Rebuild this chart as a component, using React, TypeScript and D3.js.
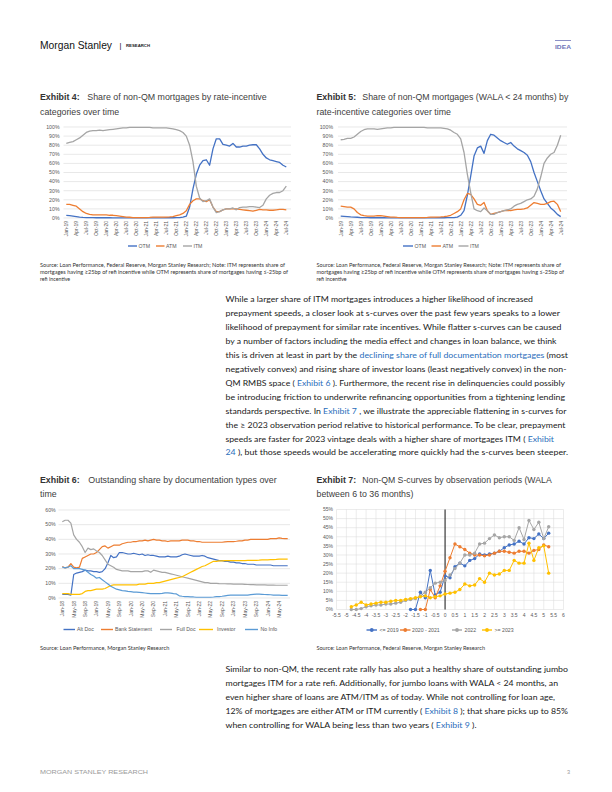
import * as d3 from "d3";

// ---------- data ----------
const months19 = d3.utcMonth
  .range(new Date(Date.UTC(2019, 0, 1)), new Date(Date.UTC(2024, 7, 1)))
  .map(d3.utcFormat("%b-%y"));
const months18 = d3.utcMonth
  .range(new Date(Date.UTC(2018, 0, 1)), new Date(Date.UTC(2024, 8, 1)))
  .map(d3.utcFormat("%b-%y"));

const ticks19 = ["Jan-19", "Apr-19", "Jul-19", "Oct-19", "Jan-20", "Apr-20", "Jul-20", "Oct-20", "Jan-21", "Apr-21", "Jul-21", "Oct-21", "Jan-22", "Apr-22", "Jul-22", "Oct-22", "Jan-23", "Apr-23", "Jul-23", "Oct-23", "Jan-24", "Apr-24", "Jul-24"];
const ticks18 = ["Jan-18", "May-18", "Sep-18", "Jan-19", "May-19", "Sep-19", "Jan-20", "May-20", "Sep-20", "Jan-21", "May-21", "Sep-21", "Jan-22", "May-22", "Sep-22", "Jan-23", "May-23", "Sep-23", "Jan-24", "May-24"];
const pctTicks100 = [0, 10, 20, 30, 40, 50, 60, 70, 80, 90, 100];
const pctTicks60 = [0, 10, 20, 30, 40, 50, 60];
const pctTicks55 = [0, 5, 10, 15, 20, 25, 30, 35, 40, 45, 50, 55];
const incentiveTicks = [-5.5, -5, -4.5, -4, -3.5, -3, -2.5, -2, -1.5, -1, -0.5, 0, 0.5, 1, 1.5, 2, 2.5, 3, 3.5, 4, 4.5, 5, 5.5, 6];

// Exhibit 4: all loans
const otm4 = [3, 2.5, 2, 1.5, 1, 0.7, 0.5, 0.4, 0.4, 0.3, 0.3, 0.3, 0.3, 0.3, 0.2, 0.2, 0.2, 0.2, 0.2, 0.2, 0.2, 0.2, 0.2, 0.2, 0.2, 0.2, 0.2, 0.2, 0.2, 0.2, 0.3, 0.3, 0.3, 0.4, 0.5, 1, 2, 12, 32, 48, 58, 63, 64, 58, 76, 87, 87, 81, 80, 79, 82, 78, 78, 79, 79, 80, 80.5, 80.5, 76, 70, 66, 64, 63, 62, 61, 58, 56];
const atm4 = [15, 15, 14, 13, 10, 7, 5, 4, 3.5, 3.5, 3.5, 3.5, 3.5, 3, 3, 2.5, 2, 1.5, 1, 0.8, 0.5, 0.5, 0.5, 0.5, 0.5, 0.7, 1, 1, 1, 1, 1, 1.2, 1.5, 2.5, 3.5, 5, 8, 15, 19, 21, 21, 19, 18, 20, 12, 7, 7, 9, 10, 10, 10, 10, 9.5, 9, 8.5, 8, 7.5, 8.5, 9.5, 9, 9, 8.5, 8.5, 9, 9.5, 9.5, 9];
const itm4 = [82, 83, 84, 86, 88, 91, 94, 95.5, 96, 96, 96.5, 96, 96.5, 97, 97.5, 98, 98.5, 99, 99, 99.5, 99.5, 99.5, 99.5, 99.5, 99.5, 99.5, 99, 99, 99, 99, 99, 98.5, 98, 97, 96, 94, 90, 80, 62, 35, 22, 18, 19, 21, 12, 6, 7, 9, 10, 10, 11, 9, 11.5, 12, 12, 12.5, 12.5, 12, 11.5, 14, 21, 25, 27, 28, 28, 30, 35];

// Exhibit 5: WALA < 24 months
const otm5 = [2, 1.8, 1.5, 1.2, 1, 0.8, 0.5, 0.4, 0.4, 0.3, 0.3, 0.3, 0.3, 0.3, 0.2, 0.2, 0.2, 0.2, 0.2, 0.2, 0.2, 0.2, 0.2, 0.2, 0.2, 0.2, 0.2, 0.2, 0.2, 0.3, 0.3, 0.3, 0.4, 0.4, 0.5, 1, 3, 8, 25, 46, 68, 77, 79, 71, 85, 92, 91, 88, 85, 83, 81, 83, 79, 76, 74, 72, 69, 62, 50, 40, 30, 21, 16, 11, 8, 4, 1.5];
const atm5 = [13, 12.5, 12, 12, 10, 6, 3.5, 2.5, 2, 2, 2, 2.5, 2.5, 2, 1.5, 1, 1, 0.7, 0.5, 0.5, 0.5, 0.5, 0.5, 0.5, 0.5, 0.5, 0.7, 1, 1, 1, 1.2, 1.5, 2, 3, 5, 7, 10, 20, 27, 26, 21, 15, 14, 17, 8, 4, 5, 6, 7, 8, 8.5, 8, 9, 9.5, 9.5, 10, 11, 14, 17, 16, 15, 15, 16, 18, 18.5, 15, 7];
const itm5 = [86, 86.5, 87.5, 87.5, 89, 92, 95, 97, 98, 98, 98, 97.5, 98, 98.5, 99, 99, 99.5, 99.5, 99.5, 99.5, 99.5, 99.5, 99.5, 99.5, 99.5, 99.5, 99, 99, 99, 99, 99, 98.5, 98, 96.5, 94, 92, 87, 72, 48, 28, 10, 8, 7, 11, 8, 4, 4, 6, 7, 8, 9, 10, 13, 15, 16, 18, 20, 21, 24, 32, 45, 60, 66, 70, 72, 80, 91];

// Exhibit 6: documentation types
const altDoc = [2.5, 2.5, 2.5, 2, 16, 17, 17.5, 18, 19, 18.5, 18.5, 18, 18, 17.5, 18, 20, 24, 29, 27.5, 28, 31, 31, 30.5, 30, 30, 30.5, 30, 29.5, 30, 29, 29.5, 29, 29, 28.5, 28, 28, 28, 28.5, 28, 28, 28, 28.5, 29.5, 30, 29.5, 29, 28.5, 28.5, 28.5, 29, 28.5, 27.5, 27, 26.5, 26, 25.5, 25.5, 25, 25, 24.5, 24.5, 24, 24, 23.5, 23.5, 23, 23, 23, 22.5, 22.5, 22.5, 22.5, 22.5, 22.5, 22, 22, 22, 22, 22, 22];
const bankStatement = [21.5, 20.5, 21, 23.5, 21, 20.5, 21, 27, 28, 29, 30, 30, 31, 33, 35, 35.5, 34, 35, 36, 36, 36, 37, 37.5, 38, 38, 38.5, 38.5, 39, 39, 39.5, 39, 39.5, 40, 39.5, 39.5, 39, 39, 38.5, 39, 39, 39, 39, 39.5, 39.5, 39.5, 39, 39, 38.5, 38.5, 38, 38, 38, 38, 38, 38, 38, 38, 38.3, 38.5, 38.5, 38.5, 38.7, 39, 39, 39.5, 39.5, 40, 40, 40, 40, 40, 40, 40, 40.5, 40.5, 40.5, 41, 40.7, 40.5, 40.5];
const fullDoc = [52, 53, 53, 51, 43, 40, 38, 35, 31, 34, 33, 33.5, 32, 31, 29, 26, 23, 22, 21, 19.5, 19, 18.5, 18.5, 18.5, 18, 18, 18, 18, 18, 18.5, 18.5, 17.5, 19, 18.5, 18, 17.5, 17.5, 17, 16.5, 16, 15.5, 15, 14.5, 14, 13.5, 13, 12.5, 12, 11.5, 11, 10.5, 10.5, 10, 10, 10, 9.8, 9.7, 9.7, 9.6, 9.6, 9.5, 9.5, 9.4, 9.4, 9.3, 9.2, 9.1, 9.1, 9, 9, 9, 8.9, 8.8, 8.8, 8.8, 8.7, 8.7, 8.7, 8.7, 8.7];
const investor = [3, 3, 3, 2.5, 2.5, 2.5, 2.5, 3, 4.5, 5, 5, 5.5, 6, 6, 6, 6.5, 7.5, 8.5, 9, 9, 9, 9, 9, 9, 9, 9, 9, 9.5, 9.5, 9.5, 10, 10, 10, 10.5, 10.5, 11, 11.5, 12, 12.5, 13, 13.5, 14, 14.5, 15.5, 16.5, 17.5, 18.5, 19.5, 20.5, 21.5, 22, 23, 24, 25, 25, 25.3, 25.3, 25.5, 25.5, 25.5, 25.5, 25.5, 25.5, 25.5, 25.5, 25.6, 25.7, 25.7, 25.7, 25.8, 26, 26, 26, 26.2, 26.2, 26.3, 26.5, 26.5, 26.5, 26.5];
const noInfo = [21, 20.5, 21, 22, 20, 20, 20, 19.5, 19, 17.5, 16, 15, 13.5, 14, 12.5, 11, 9.5, 8, 7, 6, 5.5, 5, 4.8, 4.5, 4.3, 4, 4, 3.8, 3.6, 3.4, 3.2, 3, 3, 3, 3, 3.2, 3.5, 3.5, 3.3, 3, 2.8, 1.5, 1.2, 1, 1, 0.8, 0.7, 0.5, 0.5, 0.5, 0.5, 0.5, 0.5, 0.7, 1, 1, 1.2, 1.5, 1.8, 2, 2, 2, 2, 2, 2, 2, 2.3, 2.5, 2.6, 2.6, 2.5, 2.4, 2.3, 2.2, 2, 2, 2, 1.8, 1.8, 1.8];

// Exhibit 7: s-curves (refi incentive, %)
const incentives = [-4.75, -4.5, -4.25, -4, -3.75, -3.5, -3.25, -3, -2.75, -2.5, -2.25, -2, -1.75, -1.5, -1.25, -1, -0.75, -0.5, -0.25, 0, 0.25, 0.5, 0.75, 1, 1.25, 1.5, 1.75, 2, 2.25, 2.5, 2.75, 3, 3.25, 3.5, 3.75, 4, 4.25, 4.5, 4.75, 5, 5.25];
const sc2019 = [null, null, null, null, null, null, null, null, null, null, null, null, 0, 0, 9.5, 6.5, 21.5, 8, 9.5, 18.5, 17.5, 23.5, 25.5, 24, 27, 28, 30.5, 30, 30.5, 31, 32, 34, 35.5, 36, 37.5, 36, 39.5, 39, 41.5, 39, 42];
const sc2020 = [null, null, null, null, null, null, null, null, null, null, null, null, null, null, 0, 0, 11, 6.5, 13, 21, 28.5, 36, 34.5, 33, 31, 30, 30, 29.5, 30, 31, 32, 32, 31.5, 31, 32, 32, 31, 32.5, 33, 35.5, 34.5];
const sc2022 = [0, 0, 0.5, 1.5, 2, 2.5, 2.5, 3, 3, 3.5, 4, 5, 5.5, 6, 7.5, 9.5, 12, 14.5, 15, 16, 19, 22.5, 25.5, 30, 30, 31, 36, 36.5, 39, 41, 39.5, 40, 40, 38, 45, 38.5, 49, 44, 48, 39, 45.5];
const sc2023 = [1.5, 2.5, 4, 2.5, 3, 3.5, 4, 4, 4.5, 5, 5, 5.5, 6, 6.5, 7, 7.5, 6.5, 7, 7.5, 8.5, 9, 9.5, 11, 14, 13, 13.5, 17, 15, 20, 19, 19.5, 21.5, 21.5, 27, 25.5, 25.5, 36.5, 27, 34, 35, 20];

// ---------- text ----------
const para1: [string, boolean][][] = [
  [["While a larger share of ITM mortgages introduces a higher likelihood of increased", false]],
  [["prepayment speeds, a closer look at s-curves over the past few years speaks to a lower", false]],
  [["likelihood of prepayment for similar rate incentives. While flatter s-curves can be caused", false]],
  [["by a number of factors including the media effect and changes in loan balance, we think", false]],
  [["this is driven at least in part by the ", false], ["declining share of full documentation mortgages", true], [" (most", false]],
  [["negatively convex) and rising share of investor loans (least negatively convex) in the non-", false]],
  [["QM RMBS space ( ", false], ["Exhibit 6", true], [" ). Furthermore, the recent rise in delinquencies could possibly", false]],
  [["be introducing friction to underwrite refinancing opportunities from a tightening lending", false]],
  [["standards perspective. In  ", false], ["Exhibit 7", true], [" , we illustrate the appreciable flattening in s-curves for", false]],
  [["the \u2265 2023 observation period relative to historical performance. To be clear, prepayment", false]],
  [["speeds are faster for 2023 vintage deals with a higher share of mortgages ITM ( ", false], ["Exhibit", true]],
  [["24", true], [" ), but those speeds would be accelerating more quickly had the s-curves been steeper.", false]],
];
const para1Ends = [533, 560, 561.5, 556.5, 568, 566.5, 565, 565, 566.5, 565.5, 554, 568];

const para2: [string, boolean][][] = [
  [["Similar to non-QM, the recent rate rally has also put a healthy share of outstanding jumbo", false]],
  [["mortgages ITM for a rate refi. Additionally, for jumbo loans with WALA < 24 months, an", false]],
  [["even higher share of loans are ATM/ITM as of today. While not controlling for loan age,", false]],
  [["12% of mortgages are either ATM or ITM currently ( ", false], ["Exhibit 8", true], [" ); that share picks up to 85%", false]],
  [["when controlling for WALA being less than two years ( ", false], ["Exhibit 9", true], [" ).", false]],
];
const para2Ends = [568, 558, 555, 568, 476.5];

const noteLines = [
  "Source: Loan Performance, Federal Reserve, Morgan Stanley Research; Note: ITM represents share of",
  "mortgages having \u226525bp of refi incentive while OTM represents share of mortgages having \u2264-25bp of",
  "refi incentive",
];

const SANS = "'Liberation Sans', Arial, sans-serif";
const BODY = "Lato, 'Open Sans', sans-serif";
const AXIS = "#595959";
const GRID = "#d9d9d9";
const LINK = "#2a6ebb";
const C_BLUE = "#4472C4";
const C_ORANGE = "#ED7D31";
const C_GRAY = "#A5A5A5";
const C_YELLOW = "#FFC000";
const C_LBLUE = "#5B9BD5";

// ---------- pieces ----------
function Title({ x, sx, y, label, line1, line1End, line2 }: any) {
  return (
    <g fontFamily={SANS} fill="#333">
      <text x={x} y={y} fontSize={8.8} fontWeight="bold">{label}</text>
      <text x={sx} y={y} fontSize={8.8} fill="#404040" textLength={line1End - sx} lengthAdjust="spacingAndGlyphs">{line1}</text>
      <text x={x} y={y + 14.5} fontSize={8.8} fill="#404040">{line2}</text>
    </g>
  );
}

function MonthChart({ months, ticks, series, xFirst, xLast, yTop, yBottom, yMax, yTicks, gridL, gridR, labelRight, sw }: any) {
  const x = d3.scalePoint<string>().domain(months).range([xFirst, xLast]);
  const y = d3.scaleLinear().domain([0, yMax]).range([yBottom, yTop]);
  const line = d3.line<number>().x((_, i) => x(months[i])!).y((d) => y(d)).curve(d3.curveLinear);
  return (
    <g fontFamily={SANS}>
      {yTicks.map((t: number) => (
        <g key={t}>
          <line x1={gridL} x2={gridR} y1={y(t)} y2={y(t)} stroke={GRID} strokeWidth={0.6} />
          <text x={labelRight} y={y(t)} dy="0.35em" textAnchor="end" fontSize={5.2} fill={AXIS}>{t}%</text>
        </g>
      ))}
      {ticks.map((t: string) => (
        <text key={t} transform={`translate(${x(t)},${yBottom + 3}) rotate(-90)`} textAnchor="end" dy="0.36em" fontSize={5} fill={AXIS}>{t}</text>
      ))}
      {series.map((s: any) => (
        <path key={s.name} d={line(s.values) || ""} fill="none" stroke={s.color} strokeWidth={sw} strokeLinejoin="round" />
      ))}
    </g>
  );
}

function Legend({ items, y, marker }: any) {
  return (
    <g fontFamily={SANS} fontSize={5.2} fill={AXIS}>
      {items.map((it: any) => (
        <g key={it.name}>
          <line x1={it.x1} x2={it.x2} y1={y} y2={y} stroke={it.color} strokeWidth={1.4} />
          {marker && <circle cx={(it.x1 + it.x2) / 2} cy={y} r={1.9} fill={it.color} />}
          <text x={it.tx} y={y} dy="0.35em">{it.name}</text>
        </g>
      ))}
    </g>
  );
}

function Para({ lines, ends, x, y0, step }: any) {
  return (
    <g fontFamily={BODY} fontSize={8.3} fill="#1a1a1a" style={{ whiteSpace: "pre" }}>
      {lines.map((segs: [string, boolean][], i: number) => (
        <text key={i} x={x} y={y0 + i * step} textLength={ends[i] - x} lengthAdjust="spacingAndGlyphs">
          {segs.map(([t, link], j) => (
            <tspan key={j} fill={link ? LINK : "#1a1a1a"}>{t}</tspan>
          ))}
        </text>
      ))}
    </g>
  );
}

function Note({ x, y, lines, ends }: any) {
  return (
    <g fontFamily={BODY} fontSize={5.3} fill="#333">
      {lines.map((t: string, i: number) => (
        <text key={i} x={x} y={y + i * 7} textLength={ends[i] ? ends[i] - x : undefined} lengthAdjust={ends[i] ? "spacingAndGlyphs" : undefined}>{t}</text>
      ))}
    </g>
  );
}

function SCurveChart() {
  const x = d3.scaleLinear().domain([-5.5, 6]).range([336.5, 563.5]);
  const y = d3.scaleLinear().domain([0, 55]).range([609.5, 509.5]);
  const line = d3.line<number | null>()
    .defined((d) => d !== null)
    .x((_, i) => x(incentives[i]))
    .y((d) => y(d as number));
  const series = [
    { name: "<= 2019", color: C_BLUE, values: sc2019 },
    { name: "2020 - 2021", color: C_ORANGE, values: sc2020 },
    { name: "2022", color: C_GRAY, values: sc2022 },
    { name: ">= 2023", color: C_YELLOW, values: sc2023 },
  ];
  return (
    <g fontFamily={SANS}>
      {incentiveTicks.map((t) => (
        <g key={t}>
          <line x1={x(t)} x2={x(t)} y1={y(0)} y2={y(55)} stroke={GRID} strokeWidth={0.5} />
          <text x={x(t)} y={y(0) + 7} textAnchor="middle" fontSize={5} fill={AXIS}>{t}</text>
        </g>
      ))}
      {pctTicks55.map((t) => (
        <g key={t}>
          <line x1={x(-5.5)} x2={x(6)} y1={y(t)} y2={y(t)} stroke={GRID} strokeWidth={0.5} />
          <text x={333} y={y(t)} dy="0.35em" textAnchor="end" fontSize={5} fill={AXIS}>{t}%</text>
        </g>
      ))}
      <line x1={x(0)} x2={x(0)} y1={y(0)} y2={y(55)} stroke="#000" strokeWidth={0.9} />
      {series.map((s) => (
        <g key={s.name}>
          <path d={line(s.values) || ""} fill="none" stroke={s.color} strokeWidth={1} />
          {s.values.map((v, i) => v === null ? null : (
            <circle key={i} cx={x(incentives[i])} cy={y(v)} r={1.7} fill={s.color} />
          ))}
        </g>
      ))}
    </g>
  );
}

export default function App() {
  const rate4 = [
    { name: "OTM", color: C_BLUE, values: otm4 },
    { name: "ATM", color: C_ORANGE, values: atm4 },
    { name: "ITM", color: C_GRAY, values: itm4 },
  ];
  const rate5 = [
    { name: "OTM", color: C_BLUE, values: otm5 },
    { name: "ATM", color: C_ORANGE, values: atm5 },
    { name: "ITM", color: C_GRAY, values: itm5 },
  ];
  const docs = [
    { name: "Alt Doc", color: C_BLUE, values: altDoc },
    { name: "Bank Statement", color: C_ORANGE, values: bankStatement },
    { name: "Full Doc", color: C_GRAY, values: fullDoc },
    { name: "Investor", color: C_YELLOW, values: investor },
    { name: "No Info", color: C_LBLUE, values: noInfo },
  ];

  return (
    <svg width={612} height={792} viewBox="0 0 612 792" style={{ position: "absolute", left: 0, top: 0, background: "#fff" }}>
      {/* header */}
      <text x={40} y={48.5} fontFamily={SANS} fontSize={10.4} fill="#111" textLength={72} lengthAdjust="spacingAndGlyphs">Morgan Stanley</text>
      <text x={119.5} y={48} fontFamily={SANS} fontSize={7.5} fill="#111">|</text>
      <text x={126} y={47.3} fontFamily={SANS} fontSize={4} fontWeight="bold" fill="#222" textLength={24} lengthAdjust="spacingAndGlyphs">RESEARCH</text>
      <line x1={555} x2={571} y1={40.5} y2={40.5} stroke="#6f73b8" strokeWidth={0.8} />
      <text x={555} y={48.5} fontFamily={SANS} fontSize={5.8} fontWeight="bold" fill="#6f73b8" textLength={16} lengthAdjust="spacingAndGlyphs">IDEA</text>

      {/* Exhibit 4 */}
      <Title x={40} sx={87.3} y={100} label="Exhibit 4:" line1="Share of non-QM mortgages by rate-incentive" line1End={266.7} line2="categories over time" />
      <MonthChart months={months19} ticks={ticks19} series={rate4} xFirst={66.3} xLast={286.3} yTop={127} yBottom={218} yMax={100} yTicks={pctTicks100} gridL={63.5} gridR={291} labelRight={59.5} sw={1.3} />
      <Legend y={246} items={[
        { name: "OTM", color: C_BLUE, x1: 128, x2: 137, tx: 138.5 },
        { name: "ATM", color: C_ORANGE, x1: 156, x2: 164.5, tx: 166 },
        { name: "ITM", color: C_GRAY, x1: 183, x2: 192, tx: 193.5 },
      ]} />
      <Note x={40} y={267} lines={noteLines} ends={[285, 288, 0]} />

      {/* Exhibit 5 */}
      <Title x={316.5} sx={362.3} y={100} label="Exhibit 5:" line1="Share of non-QM mortgages (WALA < 24 months) by" line1End={568.3} line2="rate-incentive categories over time" />
      <MonthChart months={months19} ticks={ticks19} series={rate5} xFirst={340.7} xLast={560.7} yTop={127} yBottom={218} yMax={100} yTicks={pctTicks100} gridL={338} gridR={567} labelRight={333} sw={1.3} />
      <Legend y={246} items={[
        { name: "OTM", color: C_BLUE, x1: 403, x2: 413, tx: 414.5 },
        { name: "ATM", color: C_ORANGE, x1: 431.5, x2: 441, tx: 442.5 },
        { name: "ITM", color: C_GRAY, x1: 458.5, x2: 468.5, tx: 470 },
      ]} />
      <Note x={316.5} y={267} lines={noteLines} ends={[561, 564, 0]} />

      {/* body paragraph 1 */}
      <Para lines={para1} ends={para1Ends} x={225.5} y0={302} step={13.95} />

      {/* Exhibit 6 */}
      <Title x={40} sx={88.3} y={482.5} label="Exhibit 6:" line1="Outstanding share by documentation types over" line1End={276.7} line2="time" />
      <MonthChart months={months18} ticks={ticks18} series={docs} xFirst={62.3} xLast={287.7} yTop={510} yBottom={598} yMax={60} yTicks={pctTicks60} gridL={58.5} gridR={290} labelRight={55.7} sw={1.2} />
      <Legend y={629.5} items={[
        { name: "Alt Doc", color: C_BLUE, x1: 63.5, x2: 75, tx: 77 },
        { name: "Bank Statement", color: C_ORANGE, x1: 101, x2: 113, tx: 115 },
        { name: "Full Doc", color: C_GRAY, x1: 160, x2: 172, tx: 176.5 },
        { name: "Investor", color: C_YELLOW, x1: 199, x2: 213, tx: 217 },
        { name: "No Info", color: C_LBLUE, x1: 245, x2: 258, tx: 260.5 },
      ]} />
      <Note x={40} y={650} lines={["Source: Loan Performance, Morgan Stanley Research"]} ends={[169.3]} />

      {/* Exhibit 7 */}
      <Title x={316.5} sx={362.3} y={482.5} label="Exhibit 7:" line1="Non-QM S-curves by observation periods (WALA" line1End={551.7} line2="between 6 to 36 months)" />
      <SCurveChart />
      <Legend y={630} marker items={[
        { name: "<= 2019", color: C_BLUE, x1: 366.5, x2: 377, tx: 379.5 },
        { name: "2020 - 2021", color: C_ORANGE, x1: 400, x2: 410.5, tx: 412 },
        { name: "2022", color: C_GRAY, x1: 452, x2: 462, tx: 464.5 },
        { name: ">= 2023", color: C_YELLOW, x1: 482, x2: 492, tx: 494.5 },
      ]} />
      <Note x={316.5} y={650} lines={["Source: Loan Performance, Federal Reserve, Morgan Stanley Research"]} ends={[485]} />

      {/* body paragraph 2 */}
      <Para lines={para2} ends={para2Ends} x={225.5} y0={672} step={14} />

      {/* footer */}
      <text x={40} y={774} fontFamily={SANS} fontSize={5.6} fill="#9a9a9a" textLength={108} lengthAdjust="spacingAndGlyphs">MORGAN STANLEY RESEARCH</text>
      <text x={567} y={774} fontFamily={SANS} fontSize={5.6} fill="#9a9a9a">3</text>
    </svg>
  );
}
